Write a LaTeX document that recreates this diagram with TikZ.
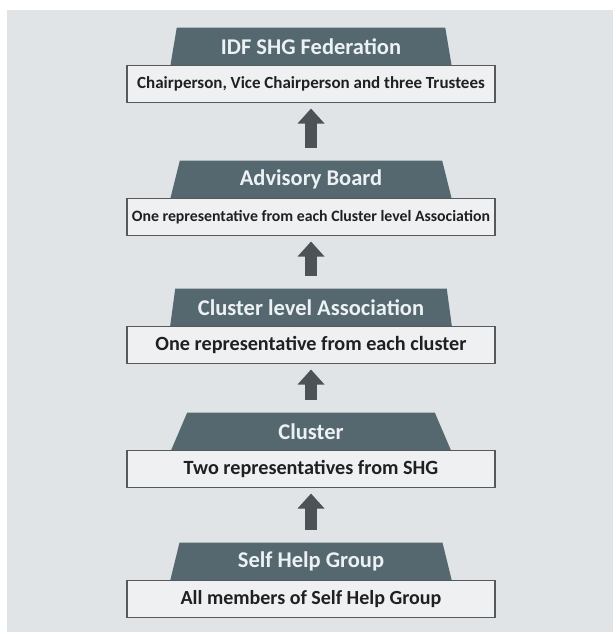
\documentclass[tikz,border=0pt]{standalone}
\usepackage{fontspec}
\setmainfont{Carlito}
\usetikzlibrary{positioning,arrows.meta,shapes.geometric}
\definecolor{panelgray}{HTML}{E1E4E7}
\definecolor{headslate}{HTML}{55686F}
\definecolor{headtext}{HTML}{ECF1F3}
\definecolor{boxfill}{HTML}{EEF0F2}
\definecolor{boxedge}{HTML}{56595C}
\definecolor{boxtext}{HTML}{1E2124}
\definecolor{arrowgray}{HTML}{4D5257}
\tikzset{
  head/.style={trapezium,trapezium left angle=75,trapezium right angle=75,
              trapezium stretches=true,minimum width=282pt,minimum height=38pt,
              inner sep=0pt,outer sep=0pt,fill=headslate,text=headtext,
              font=\bfseries\fontsize{22.5}{24}\selectfont},
  rolebox/.style={draw=boxedge,line width=1.8pt,fill=boxfill,text=boxtext,
              minimum width=368pt,minimum height=37pt,inner sep=0pt,outer sep=0pt},
  uparrow/.style={-{Triangle[width=26pt,length=15pt]},line width=12pt,arrowgray,
              shorten <=13pt,shorten >=6pt},
}
\newcommand{\boxfont}[1]{\bfseries\fontsize{#1}{#1}\selectfont}

\begin{document}
\begin{tikzpicture}
  \useasboundingbox (0,0) rectangle (613pt,-632pt);
  \fill[panelgray] (7pt,-10pt) rectangle (613pt,-632pt);
  \node[head] (fedhead) at (311pt,-46.5pt) {IDF SHG Federation};
  \node[rolebox,font=\boxfont{17},below=0pt of fedhead] (fedbox)
    {Chairperson, Vice Chairperson and three Trustees};
  \node[head,below=58pt of fedbox] (advhead) {Advisory Board};
  \node[rolebox,font=\boxfont{15.8},below=0pt of advhead] (advbox)
    {One representative from each Cluster level Association};
  \node[head,below=53pt of advbox] (clahead) {Cluster level Association};
  \node[rolebox,font=\boxfont{20.2},below=0pt of clahead] (clabox)
    {One representative from each cluster};
  \node[head,below=49pt of clabox] (clshead) {Cluster};
  \node[rolebox,font=\boxfont{20.2},below=0pt of clshead] (clsbox)
    {Two representatives from SHG};
  \node[head,below=55pt of clsbox] (shghead) {Self Help Group};
  \node[rolebox,font=\boxfont{20},below=0pt of shghead] (shgbox)
    {All members of Self Help Group};
  % arrows up the levels
  \draw[uparrow] (advhead.north) -- (fedbox.south);
  \draw[uparrow] (clahead.north) -- (advbox.south);
  \draw[uparrow] (clshead.north) -- (clabox.south);
  \draw[uparrow] (shghead.north) -- (clsbox.south);
\end{tikzpicture}
\end{document}
